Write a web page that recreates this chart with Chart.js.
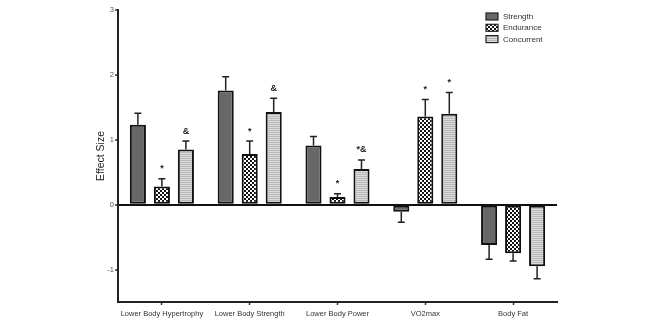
<!DOCTYPE html>
<html>
<head>
<meta charset="utf-8">
<script src="https://cdn.jsdelivr.net/npm/chart.js@4/dist/chart.umd.min.js"></script>
<style>
  html, body { margin: 0; padding: 0; background: #fff; }
  #wrap { width: 660px; height: 330px; }
</style>
</head>
<body>
<div id="wrap"><canvas id="chart"></canvas></div>
<script>
const categories = ['Lower Body Hypertrophy', 'Lower Body Strength', 'Lower Body Power', 'VO2max', 'Body Fat'];
const seriesNames = ['Strength', 'Endurance', 'Concurrent'];

const strength = [1.23, 1.76, 0.91, -0.11, -0.62];
const endurance = [0.28, 0.78, 0.12, 1.36, -0.75];
const concurrent = [0.85, 1.43, 0.55, 1.40, -0.95];

const strengthErr = [0.18, 0.21, 0.14, 0.16, 0.22];
const enduranceErr = [0.12, 0.20, 0.05, 0.26, 0.12];
const concurrentErr = [0.13, 0.21, 0.14, 0.33, 0.19];

const strengthMarks = ['', '', '', '', ''];
const enduranceMarks = ['*', '*', '*', '*', ''];
const concurrentMarks = ['&', '&', '*&', '*', ''];

const yTicks = [-1, 0, 1, 2, 3];

const FONT = "'Liberation Sans', Arial, Helvetica, sans-serif";

function makePattern(w, h, draw) {
    const c = document.createElement('canvas');
    c.width = w; c.height = h;
    draw(c.getContext('2d'));
    return c.getContext('2d').createPattern(c, 'repeat');
}

const strengthFill = makePattern(4, 4, g => {
    g.fillStyle = '#666';
    g.fillRect(0, 0, 4, 4);
    g.fillStyle = '#717171';
    g.fillRect(0, 0, 1, 1);
    g.fillRect(2, 2, 1, 1);
});
const enduranceFill = makePattern(4, 4, g => {
    g.fillStyle = '#111';
    g.fillRect(0, 0, 4, 4);
    g.fillStyle = '#fff';
    g.fillRect(0, 0, 2, 2);
    g.fillRect(2, 2, 2, 2);
});
const concurrentFill = makePattern(2, 2, g => {
    g.fillStyle = '#b8b8b8';
    g.fillRect(0, 0, 2, 1);
    g.fillStyle = '#dcdcdc';
    g.fillRect(0, 1, 2, 1);
});

const errors = [strengthErr, enduranceErr, concurrentErr];
const marks = [strengthMarks, enduranceMarks, concurrentMarks];

const errorBars = {
    id: 'errorBars',
    afterDatasetsDraw(chart) {
        const ctx = chart.ctx;
        const y = chart.scales.y;
        ctx.save();
        ctx.strokeStyle = '#222';
        ctx.lineWidth = 1.5;
        ctx.fillStyle = '#222';
        ctx.font = 'bold 9px ' + FONT;
        ctx.textAlign = 'center';
        ctx.textBaseline = 'middle';
        chart.data.datasets.forEach((ds, i) => {
            chart.getDatasetMeta(i).data.forEach((bar, j) => {
                const v = ds.data[j];
                const end = v + (v < 0 ? -1 : 1) * errors[i][j];
                const yEnd = y.getPixelForValue(end);
                ctx.beginPath();
                ctx.moveTo(bar.x, bar.y);
                ctx.lineTo(bar.x, yEnd);
                ctx.moveTo(bar.x - 3.5, yEnd);
                ctx.lineTo(bar.x + 3.5, yEnd);
                ctx.stroke();
                if (marks[i][j]) ctx.fillText(marks[i][j], bar.x, yEnd - 10);
            });
        });
        ctx.restore();
    }
};

const boxLegend = {
    id: 'boxLegend',
    afterDraw(chart) {
        const ctx = chart.ctx;
        ctx.save();
        ctx.font = '8px ' + FONT;
        ctx.textBaseline = 'middle';
        chart.data.datasets.forEach((ds, i) => {
            const top = 13 + i * 11.3;
            ctx.fillStyle = ds.backgroundColor;
            ctx.fillRect(486, top, 12, 7);
            ctx.strokeStyle = '#222';
            ctx.lineWidth = 1.2;
            ctx.strokeRect(486, top, 12, 7);
            ctx.fillStyle = '#333';
            ctx.fillText(ds.label, 503, top + 3.8);
        });
        ctx.restore();
    }
};

new Chart(document.getElementById('chart'), {
    type: 'bar',
    data: {
        labels: categories,
        datasets: [
            { label: seriesNames[0], data: strength, backgroundColor: strengthFill },
            { label: seriesNames[1], data: endurance, backgroundColor: enduranceFill },
            { label: seriesNames[2], data: concurrent, backgroundColor: concurrentFill }
        ]
    },
    options: {
        responsive: true,
        maintainAspectRatio: false,
        animation: false,
        layout: { padding: { left: 90.7, top: 10, right: 103, bottom: 0 } },
        datasets: {
            bar: {
                categoryPercentage: 0.82,
                barPercentage: 0.67,
                borderColor: '#111',
                borderWidth: 2,
                borderSkipped: false
            }
        },
        plugins: {
            legend: { display: false },
            tooltip: { enabled: false }
        },
        scales: {
            x: {
                afterFit: s => { s.height = 28; },
                border: { display: true, color: '#222', width: 2 },
                grid: { drawOnChartArea: false, offset: false, tickLength: 3, tickColor: '#333', tickWidth: 1.5 },
                ticks: { color: '#333', font: { family: FONT, size: 7.5 }, padding: 4, maxRotation: 0 }
            },
            y: {
                min: -1.5,
                max: 3,
                afterFit: s => { s.width = 27.3; },
                afterBuildTicks: s => { s.ticks = yTicks.map(v => ({ value: v })); },
                border: { display: true, color: '#222', width: 2 },
                grid: {
                    color: c => (c.tick && c.tick.value === 0 ? '#111' : 'rgba(0,0,0,0)'),
                    lineWidth: 2,
                    tickLength: 3,
                    tickColor: '#333',
                    tickWidth: 1.5
                },
                ticks: { color: '#555', font: { family: FONT, size: 7.5 }, padding: 1 },
                title: {
                    display: true,
                    text: 'Effect Size',
                    color: '#222',
                    font: { family: FONT, size: 10.5 },
                    padding: { top: 4, bottom: 0 }
                }
            }
        }
    },
    plugins: [errorBars, boxLegend]
});
</script>
</body>
</html>
